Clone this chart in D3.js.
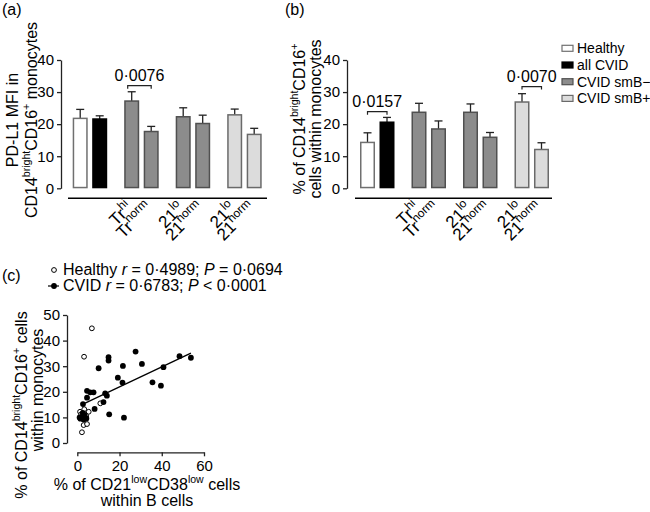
<!DOCTYPE html>
<html><head><meta charset="utf-8">
<script src="https://cdn.jsdelivr.net/npm/d3@7/dist/d3.min.js"></script>
<style>
body{margin:0;background:#fff;}
svg{display:block;font-family:"Liberation Sans",Arial,Helvetica,sans-serif;}
</style></head>
<body><svg id="c" width="650" height="512"></svg>
<script>
// ---------- DATA ----------
const barCategories = ["Healthy","all CVID","smB− Tr hi","smB− Tr norm","smB− 21 lo","smB− 21 norm","smB+ 21 lo","smB+ 21 norm"];
const barSeries = ["Healthy","all CVID","CVID smB−","CVID smB−","CVID smB−","CVID smB−","CVID smB+","CVID smB+"];
const barGroupOf = ["g0","g0","g1","g1","g2","g2","g3","g3"];
const barLabelBase = [null,null,"Tr","Tr","21","21","21","21"];
const barLabelSup = [null,null,"hi","norm","lo","norm","lo","norm"];
const pdl1Mean = [21.8,21.6,27.2,17.7,22.3,20.2,22.9,16.8];
const pdl1Err  = [2.8,1.0,2.9,1.6,2.8,2.6,1.8,1.9];
const cd16Mean = [14.3,20.6,23.7,18.5,23.7,15.9,26.9,12.1];
const cd16Err  = [3.0,1.5,2.8,2.5,2.6,1.5,2.6,2.1];
const barTicks = [0,10,20,30,40];
const legendNames = ["Healthy","all CVID","CVID smB−","CVID smB+"];
const legendFill = ["#ffffff","#000000","#8c8c8c","#dcdcdc"];
const legendStroke = ["#707070","#000000","#505050","#6a6a6a"];
const sigA = [{a:2,b:3,level:32.0,label:"0·0076"}];
const sigB = [{a:0,b:1,level:23.9,label:"0·0157"},{a:6,b:7,level:31.7,label:"0·0070"}];

const healthyPts = [[6.9,44.8],[3.2,33.7],[1.3,12.2],[3.3,13.2],[5.4,12.2],[10.9,15.5],[3.0,7.0],[4.6,7.4],[2.2,4.2],[1.8,11.2],[2.8,9.6],[4.2,10.6]];
const cvidPts = [[27.6,35.7],[14.8,33.5],[14.8,32.2],[10.1,29.2],[21.6,30.1],[30.6,30.9],[48.4,33.9],[53.8,33.3],[40.8,29.6],[19.2,25.5],[21.4,23.6],[35.6,23.7],[39.6,22.4],[4.6,20.4],[6.1,19.8],[7.7,19.8],[4.6,17.7],[13.2,19.4],[14.0,18.5],[12.4,16.0],[2.7,15.2],[8.2,13.3],[15.1,11.2],[22.1,9.9],[1.1,10.0],[2.2,10.3],[3.3,11.0],[4.3,9.6],[3.0,9.2],[1.5,9.5],[2.6,11.8],[3.6,10.2]];
const fitSlope = 0.39, fitIntercept = 14.1, fitRange = [3.7,53.8];
const scatterXTicks = [0,20,40,60];
const scatterYTicks = [0,10,20,30,40,50];

// ---------- DRAW ----------
const svg = d3.select("#c");
const FONT = 16;

function rich(textSel, parts, size, supScale){
  const k = supScale || 0.66;
  let shift = 0;
  parts.forEach(p=>{
    const t = textSel.append("tspan").text(p.t);
    if(p.sup){
      t.attr("font-size", size*k).attr("dy", -size*0.42 - shift); shift = -size*0.42;
    } else {
      t.attr("dy", -shift); shift = 0;
    }
  });
}

function barPanel(opt){
  const g = svg.append("g");
  const y = d3.scaleLinear().domain([0,40]).range([188.3,60]);
  const gx = d3.scaleBand().domain(["g0","g1","g2","g3"]).range(opt.groupRange).paddingInner(0.33).paddingOuter(0);
  const sx = d3.scaleBand().domain([0,1]).range([0,gx.bandwidth()]).paddingInner(0.23).paddingOuter(0);
  const cx = i => gx(barGroupOf[i]) + sx(i%2);
  const color = d3.scaleOrdinal().domain(legendNames).range(legendFill);
  const stroke = d3.scaleOrdinal().domain(legendNames).range(legendStroke);

  const ya = g.append("g").attr("transform",`translate(${opt.axisX},0)`)
    .call(d3.axisLeft(y).tickValues(barTicks).tickSize(4).tickPadding(3).tickSizeOuter(0));
  ya.select(".domain").attr("stroke","#222").attr("stroke-width",1.3);
  ya.selectAll(".tick line").attr("stroke","#222").attr("stroke-width",1.3);
  ya.selectAll(".tick text").attr("font-size",15).attr("fill","#000").attr("font-family",null);

  opt.means.forEach((m,i)=>{
    const x0 = cx(i), w = sx.bandwidth(), xm = x0 + w/2;
    g.append("line").attr("x1",xm).attr("x2",xm).attr("y1",y(m)).attr("y2",y(m+opt.errs[i])).attr("stroke","#222").attr("stroke-width",1.3);
    g.append("line").attr("x1",xm-4).attr("x2",xm+4).attr("y1",y(m+opt.errs[i])).attr("y2",y(m+opt.errs[i])).attr("stroke","#222").attr("stroke-width",1.3);
  });
  g.selectAll("rect.bar").data(opt.means).join("rect").attr("class","bar")
    .attr("x",(d,i)=>cx(i)+0.75).attr("width",sx.bandwidth()-1.5)
    .attr("y",d=>y(d)).attr("height",d=>y(0)-y(d)-0.75)
    .attr("fill",(d,i)=>color(barSeries[i])).attr("stroke",(d,i)=>stroke(barSeries[i])).attr("stroke-width",1.5);

  g.append("line").attr("x1",opt.lineX[0]).attr("x2",opt.lineX[1]).attr("y1",198.3).attr("y2",198.3).attr("stroke","#000").attr("stroke-width",1.5);

  barLabelBase.forEach((b,i)=>{
    if(!b) return;
    const xm = cx(i) + sx.bandwidth()/2 + 2;
    const lab = g.append("g").attr("transform",`translate(${xm},209) rotate(-45)`);
    const t = lab.append("text").attr("x",0).attr("y",0).attr("text-anchor","end").attr("font-size",17);
    rich(t,[{t:b},{t:barLabelSup[i],sup:true}],17,0.7);
  });

  opt.sig.forEach(s=>{
    const xa = cx(s.a)+sx.bandwidth()/2 - (s.a===2?4:0), xb = cx(s.b)+sx.bandwidth()/2, yy = y(s.level);
    g.append("path").attr("d",`M${xa},${yy+3}V${yy}H${xb}V${yy+3}`).attr("fill","none").attr("stroke","#222").attr("stroke-width",1.2);
    g.append("text").attr("x",(xa+xb)/2).attr("y",yy-5).attr("text-anchor","middle").attr("font-size",FONT).text(s.label);
  });

  opt.title.forEach((line,k)=>{
    const t = g.append("text").attr("transform",`translate(${opt.titleX[k]},${opt.titleY}) rotate(-90)`).attr("text-anchor","middle").attr("font-size",FONT);
    rich(t,line,FONT);
  });
  g.append("text").attr("x",opt.labelX).attr("y",15).attr("font-size",FONT).text(opt.panel);
}

barPanel({panel:"(a)",labelX:2,axisX:61,groupRange:[72.7,261.7],lineX:[68,267],means:pdl1Mean,errs:pdl1Err,sig:sigA,
  title:[[{t:"PD-L1 MFI in"}],[{t:"CD14"},{t:"bright",sup:true},{t:"CD16"},{t:"+",sup:true},{t:" monocytes"}]],titleX:[18,37],titleY:120});
barPanel({panel:"(b)",labelX:285,axisX:347,groupRange:[360,549],lineX:[355,552],means:cd16Mean,errs:cd16Err,sig:sigB,
  title:[[{t:"% of CD14"},{t:"bright",sup:true},{t:"CD16"},{t:"+",sup:true}],[{t:"cells within monocytes"}]],titleX:[305,321],titleY:119});

const lg = svg.append("g");
legendNames.forEach((n,i)=>{
  const yc = 48.3 + i*16.7;
  lg.append("rect").attr("x",562).attr("y",yc-3).attr("width",11).attr("height",6).attr("fill",legendFill[i]).attr("stroke",legendStroke[i]).attr("stroke-width",1.2);
  lg.append("text").attr("x",577).attr("y",yc+5).attr("font-size",14).text(n);
});

// ---------- SCATTER ----------
const sg = svg.append("g");
const sxS = d3.scaleLinear().domain([0,60]).range([77.3,204]);
const syS = d3.scaleLinear().domain([0,50]).range([443,315]);
const yAx = sg.append("g").attr("transform","translate(67,0)").call(d3.axisLeft(syS).tickValues(scatterYTicks).tickSize(4).tickPadding(3).tickSizeOuter(0));
const xAx = sg.append("g").attr("transform","translate(0,452.3)").call(d3.axisBottom(sxS).tickValues(scatterXTicks).tickSize(4).tickPadding(4).tickSizeOuter(0));
[yAx,xAx].forEach(a=>{
  a.select(".domain").attr("stroke","#222").attr("stroke-width",1.3);
  a.selectAll(".tick line").attr("stroke","#222").attr("stroke-width",1.3);
  a.selectAll(".tick text").attr("font-size",15).attr("fill","#000").attr("font-family",null);
});
sg.append("line").attr("x1",sxS(fitRange[0])).attr("x2",sxS(fitRange[1]))
  .attr("y1",syS(fitIntercept+fitSlope*fitRange[0])).attr("y2",syS(fitIntercept+fitSlope*fitRange[1]))
  .attr("stroke","#000").attr("stroke-width",1.3);
sg.selectAll("circle.h").data(healthyPts).join("circle").attr("class","h")
  .attr("cx",d=>sxS(d[0])).attr("cy",d=>syS(d[1])).attr("r",2.4).attr("fill","#fff").attr("stroke","#000").attr("stroke-width",1);
sg.selectAll("circle.c").data(cvidPts).join("circle").attr("class","c")
  .attr("cx",d=>sxS(d[0])).attr("cy",d=>syS(d[1])).attr("r",2.9).attr("fill","#000");

const st1 = sg.append("text").attr("transform","translate(27,405) rotate(-90)").attr("text-anchor","middle").attr("font-size",FONT);
rich(st1,[{t:"% of CD14"},{t:"bright",sup:true},{t:"CD16"},{t:"+",sup:true},{t:" cells"}],FONT);
sg.append("text").attr("transform","translate(43,390) rotate(-90)").attr("text-anchor","middle").attr("font-size",FONT).text("within monocytes");
const xt1 = sg.append("text").attr("x",147).attr("y",490).attr("text-anchor","middle").attr("font-size",FONT);
rich(xt1,[{t:"% of CD21"},{t:"low",sup:true},{t:"CD38"},{t:"low",sup:true},{t:" cells"}],FONT);
sg.append("text").attr("x",147).attr("y",506).attr("text-anchor","middle").attr("font-size",FONT).text("within B cells");

sg.append("text").attr("x",2).attr("y",281).attr("font-size",FONT).text("(c)");
sg.append("circle").attr("cx",54).attr("cy",270).attr("r",2.4).attr("fill","#fff").attr("stroke","#000");
const l1 = sg.append("text").attr("x",63).attr("y",275).attr("font-size",FONT);
l1.append("tspan").text("Healthy ");
l1.append("tspan").attr("font-style","italic").text("r");
l1.append("tspan").text(" = 0·4989; ");
l1.append("tspan").attr("font-style","italic").text("P");
l1.append("tspan").text(" = 0·0694");
sg.append("line").attr("x1",48).attr("x2",59).attr("y1",286).attr("y2",286).attr("stroke","#000").attr("stroke-width",1.2);
sg.append("circle").attr("cx",54).attr("cy",286).attr("r",2.9).attr("fill","#000");
const l2 = sg.append("text").attr("x",63).attr("y",291).attr("font-size",FONT);
l2.append("tspan").text("CVID ");
l2.append("tspan").attr("font-style","italic").text("r");
l2.append("tspan").text(" = 0·6783; ");
l2.append("tspan").attr("font-style","italic").text("P");
l2.append("tspan").text(" < 0·0001");
</script></body></html>
